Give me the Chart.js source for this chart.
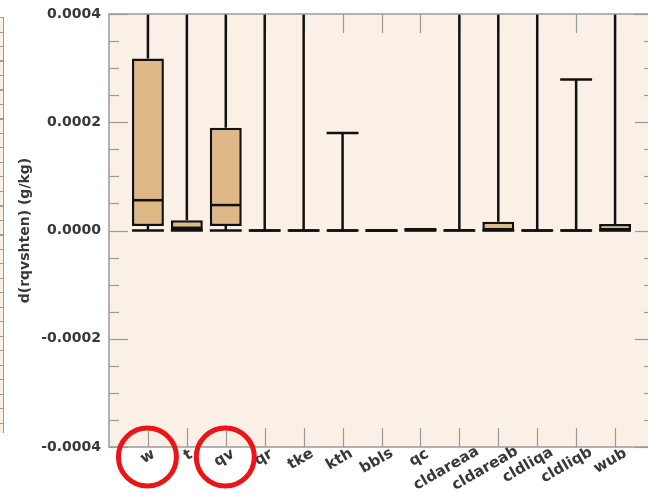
<!DOCTYPE html>
<html>
<head>
<meta charset="utf-8">
<script src="https://cdn.jsdelivr.net/npm/chart.js@4/dist/chart.umd.min.js"></script>
<style>
  html, body { margin: 0; padding: 0; background: #ffffff; overflow: hidden; width: 648px; height: 492px; }
  #wrap { position: relative; width: 648px; height: 492px; overflow: hidden; }
  #c { position: absolute; left: 0; top: 0; }
  #sliver { position: absolute; left: 0; top: 17px; width: 3px; height: 416px;
            border-right: 1px solid #9a9a9a;
            background: repeating-linear-gradient(to bottom, #9a9a9a 0px, #9a9a9a 1px, #faf0e6 1px, #faf0e6 14.5px); }
</style>
</head>
<body>
<div id="wrap">
  <div id="sliver"></div>
  <canvas id="c" width="660" height="492"></canvas>
</div>
<script>
// ---- data ----
const categories   = ['w','t','qv','qr','tke','kth','bbls','qc','cldareaa','cldareab','cldliqa','cldliqb','wub'];
const whiskerLow   = [0, 0, 0, 0, 0, 0, 0, 0, 0, 0, 0, 0, 0];
const q1Values     = [8.3e-6, 0, 8.3e-6, 0, 0, 0, 0, 0, 0, 0, 0, 0, 0];
const medianValues = [5.6e-5, 5e-6, 4.7e-5, 0, 0, 0, 0, 1e-6, 0.5e-6, 1e-6, 0, 0, 1e-6];
const q3Values     = [3.18e-4, 1.9e-5, 1.9e-4, 0, 0, 0, 0, 2.5e-6, 1e-6, 1.6e-5, 0, 0, 1.2e-5];
const whiskerHigh  = [9e-4, 7e-4, 8e-4, 6e-4, 6e-4, 1.8e-4, 0, 2.5e-6, 6e-4, 7e-4, 6e-4, 2.79e-4, 8e-4];
const yMajorTicks  = [-0.0004, -0.0002, 0, 0.0002, 0.0004];
const yMinorTicks  = [-0.00035, -0.0003, -0.00025, -0.00015, -0.0001, -0.00005, 0.00005, 0.0001, 0.00015, 0.00025, 0.0003, 0.00035];
const highlighted  = ['w', 'qv'];
const yTitle = 'd(rqvshten) (g/kg)';

const axisGray = '#9a9a9a';
const textColor = '#383838';

const boxPlugin = {
  id: 'boxExtras',
  beforeDatasetsDraw(chart) {
    const {ctx, chartArea: a, scales: {x, y}} = chart;
    ctx.save();
    ctx.fillStyle = '#faf0e6';
    ctx.fillRect(a.left, a.top, a.right - a.left, a.bottom - a.top);
    // ticks (inward), drawn beneath the boxes and whiskers
    ctx.strokeStyle = axisGray;
    ctx.lineWidth = 1.2;
    const seg = (x1, y1, x2, y2) => { ctx.beginPath(); ctx.moveTo(x1, y1); ctx.lineTo(x2, y2); ctx.stroke(); };
    yMajorTicks.forEach(v => {
      const p = Math.round(y.getPixelForValue(v)) + 0.5;
      seg(a.left, p, a.left + 19, p);
      seg(a.right, p, a.right - 19, p);
    });
    yMinorTicks.forEach(v => {
      const p = Math.round(y.getPixelForValue(v)) + 0.5;
      seg(a.left, p, a.left + 10, p);
      seg(a.right, p, a.right - 10, p);
    });
    categories.forEach((c, i) => {
      const p = Math.round(x.getPixelForValue(i)) + 0.5;
      seg(p, a.bottom, p, a.bottom - 19);
      seg(p, a.top, p, a.top + 19);
    });
    ctx.restore();
  },
  afterDatasetsDraw(chart) {
    const {ctx, chartArea: a, scales: {x, y}} = chart;
    const meta = chart.getDatasetMeta(0);
    ctx.save();
    ctx.beginPath();
    ctx.rect(a.left, a.top, a.right - a.left, a.bottom - a.top);
    ctx.clip();
    ctx.strokeStyle = '#111111';
    ctx.lineWidth = 2.5;
    ctx.lineCap = 'butt';
    const seg = (x1, y1, x2, y2) => { ctx.beginPath(); ctx.moveTo(x1, y1); ctx.lineTo(x2, y2); ctx.stroke(); };
    categories.forEach((c, i) => {
      const cx = x.getPixelForValue(i);
      const half = meta.data[i].width / 2;
      const pQ1 = y.getPixelForValue(q1Values[i]);
      const pQ3 = y.getPixelForValue(q3Values[i]);
      const pHi = y.getPixelForValue(whiskerHigh[i]);
      const pLo = y.getPixelForValue(whiskerLow[i]);
      const pMed = y.getPixelForValue(medianValues[i]);
      if (pHi < pQ3) { seg(cx, pQ3, cx, pHi); }
      seg(cx - half, pHi, cx + half, pHi);
      if (pLo > pQ1) { seg(cx, pQ1, cx, pLo); }
      seg(cx - half, pLo, cx + half, pLo);
      seg(cx - half + 1, pMed, cx + half - 1, pMed);
    });
    ctx.restore();
  },
  afterDraw(chart) {
    const {ctx, chartArea: a, scales: {x}} = chart;
    ctx.save();
    // spines
    ctx.strokeStyle = axisGray;
    ctx.lineWidth = 1.5;
    ctx.strokeRect(a.left, a.top, a.right - a.left, a.bottom - a.top);
    // x labels, rotated
    ctx.fillStyle = textColor;
    ctx.font = 'bold 15px "DejaVu Sans"';
    ctx.textAlign = 'center';
    ctx.textBaseline = 'middle';
    categories.forEach((c, i) => {
      const L = ctx.measureText(c).width;
      const cx = x.getPixelForValue(i) + 3 - 0.22 * L;
      const cy = a.bottom + 7 + 0.2 * L;
      ctx.save();
      ctx.translate(cx, cy);
      ctx.rotate(-Math.PI / 6);
      ctx.fillText(c, 0, 0);
      ctx.restore();
    });
    // red annotation circles
    ctx.strokeStyle = 'rgb(236,20,22)';
    ctx.lineWidth = 5;
    highlighted.forEach(c => {
      const i = categories.indexOf(c);
      const cx = x.getPixelForValue(i) - 0.5;
      ctx.beginPath();
      ctx.arc(cx, a.bottom + 10, 29, 0, Math.PI * 2);
      ctx.stroke();
    });
    ctx.restore();
  }
};

new Chart(document.getElementById('c'), {
  type: 'bar',
  data: {
    datasets: [{
      data: categories.map((c, i) => ({ x: i, y: [q1Values[i], q3Values[i]] })),
      backgroundColor: '#deb887',
      borderColor: '#111111',
      borderWidth: 2.5,
      borderSkipped: false,
      barPercentage: 0.82,
      categoryPercentage: 1.0
    }]
  },
  options: {
    responsive: false,
    animation: false,
    devicePixelRatio: 1,
    layout: { padding: { top: 14, bottom: 0, left: 0, right: 6 } },
    plugins: { legend: { display: false }, tooltip: { enabled: false } },
    scales: {
      x: {
        type: 'linear',
        min: -1,
        max: 13,
        offset: false,
        grid: { display: false, drawTicks: false },
        border: { display: false },
        ticks: { display: false },
        afterFit(scale) { scale.height = 45; scale.paddingLeft = 0; scale.paddingRight = 0; }
      },
      y: {
        type: 'linear',
        min: -0.0004,
        max: 0.0004,
        grid: { display: false, drawTicks: false },
        border: { display: false },
        afterBuildTicks(scale) { scale.ticks = yMajorTicks.map(v => ({ value: v })); },
        ticks: {
          padding: 8,
          color: textColor,
          font: { family: 'DejaVu Sans', size: 14, weight: 'bold' },
          callback: v => Number(v).toFixed(4)
        },
        title: {
          display: true,
          text: yTitle,
          color: textColor,
          font: { family: 'DejaVu Sans', size: 14, weight: 'bold' },
          padding: { top: 17, bottom: 0 }
        },
        afterFit(scale) { scale.width = 109; scale.paddingTop = 0; scale.paddingBottom = 0; }
      }
    }
  },
  plugins: [boxPlugin]
});
</script>
</body>
</html>
